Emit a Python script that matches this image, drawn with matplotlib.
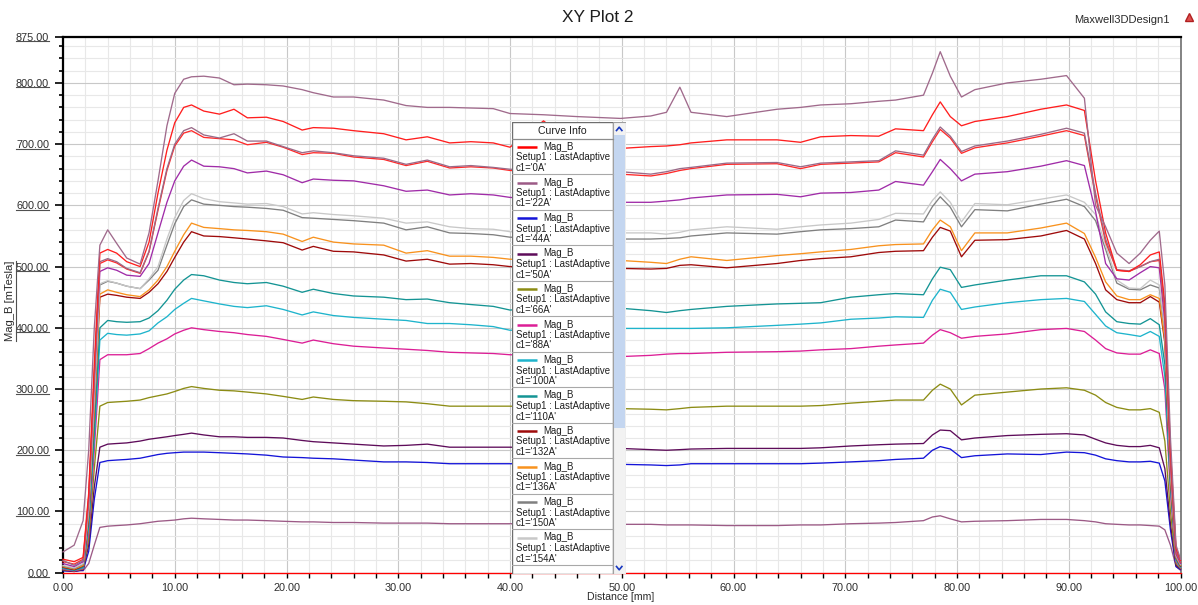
import matplotlib
matplotlib.use("Agg")
import matplotlib.pyplot as plt
import matplotlib.ticker as mticker
from matplotlib.lines import Line2D
from matplotlib.patches import Rectangle
from matplotlib.transforms import IdentityTransform

plt.rcParams["font.family"] = ["Liberation Sans", "DejaVu Sans"]

# ---------------------------------------------------------------- data
DIST = [0.0, 1.0, 1.8, 2.3, 2.8, 3.3,
        4.0, 4.8, 5.7, 6.9, 7.7,
        8.5, 9.3, 10.0, 10.8, 11.5,
        12.6, 14.0, 15.3, 16.5, 18.2,
        19.7, 21.4, 22.4, 24.2, 26.0,
        28.7, 30.7, 32.6, 34.6, 36.5,
        38.5, 40.0, 43.0, 46.0, 49.9,
        52.6, 54.0, 55.2, 56.2, 59.4,
        63.9, 66.0, 67.8, 70.5, 73.0,
        74.5, 77.0, 77.8, 78.5, 79.4, 80.4,
        81.6, 84.5, 87.5, 89.8, 91.4,
        92.4, 93.3, 94.3, 95.4, 96.4,
        97.3, 98.1, 98.6, 99.1, 99.6,
        100.0]

B_0A = [0, 0, 0, 0, 0, 0,
        0, 0, 0, 0, 0,
        0, 0, 0, 0, 0,
        0, 0, 0, 0, 0,
        0, 0, 0, 0, 0,
        0, 0, 0, 0, 0,
        0, 0, 0, 0, 0,
        0, 0, 0, 0, 0,
        0, 0, 0, 0, 0,
        0, 0, 0, 0, 0, 0,
        0, 0, 0, 0, 0,
        0, 0, 0, 0, 0,
        0, 0, 0, 0, 0,
        0]

B_22A = [10, 5, 3, 15, 45, 74,
         76, 77, 78, 80, 82,
         84, 85, 86, 88, 89,
         88, 87, 86, 86, 85,
         84, 83, 83, 82, 82,
         81, 81, 81, 80, 80,
         80, 80, 80, 79, 79,
         79, 78, 78, 78, 77,
         77, 78, 78, 80, 81,
         82, 85, 91, 93, 88, 83,
         84, 85, 87, 87, 85,
         83, 80, 79, 78, 78,
         77, 76, 70, 45, 10,
         4]

B_44A = [3, 2, 4, 35, 120, 180,
         183, 184, 185, 187, 190,
         193, 195, 196, 197, 197,
         197, 196, 195, 194, 192,
         189, 188, 187, 186, 184,
         181, 181, 180, 178, 178,
         178, 178, 177, 177, 177,
         176, 175, 176, 178, 178,
         178, 178, 179, 181, 183,
         185, 187, 200, 206, 202, 188,
         191, 194, 193, 197, 196,
         192, 186, 183, 181, 181,
         182, 179, 150, 70, 10,
         5]

B_50A = [4, 2, 5, 45, 140, 205,
         210, 211, 212, 215, 218,
         220, 222, 224, 226, 228,
         225, 222, 222, 221, 221,
         220, 216, 214, 212, 210,
         207, 208, 210, 205, 205,
         205, 205, 204, 204, 203,
         201, 200, 201, 202, 203,
         203, 203, 204, 207, 209,
         210, 211, 225, 233, 232, 217,
         220, 224, 226, 227, 225,
         218, 212, 208, 206, 206,
         208, 204, 170, 80, 12,
         6]

B_66A = [5, 3, 6, 55, 170, 272,
         278, 279, 280, 282, 286,
         289, 292, 296, 301, 304,
         301, 298, 297, 295, 292,
         288, 283, 287, 283, 281,
         280, 279, 276, 272, 272,
         272, 272, 270, 269, 268,
         267, 266, 268, 270, 272,
         272, 272, 273, 277, 280,
         282, 282, 298, 308, 300, 274,
         290, 295, 300, 302, 298,
         290, 278, 270, 266, 266,
         268, 262, 215, 100, 15,
         7]

B_88A = [6, 3, 7, 65, 200, 348,
         356, 356, 356, 358, 366,
         375, 382, 390, 396, 400,
         397, 394, 392, 389, 386,
         381, 375, 380, 374, 370,
         367, 365, 363, 360, 359,
         358, 356, 355, 354, 353,
         355, 357, 358, 358, 360,
         361, 362, 364, 366, 370,
         372, 375, 388, 397, 392, 383,
         386, 390, 397, 399, 394,
         380, 366, 359, 357, 357,
         364, 358, 300, 130, 18,
         8]

B_100A = [7, 4, 8, 75, 220, 380,
          391, 389, 388, 390, 395,
          408, 418, 430, 440, 448,
          444, 439, 435, 433, 436,
          430, 421, 426, 420, 417,
          414, 412, 407, 407, 405,
          402, 396, 398, 399, 399,
          399, 399, 399, 399, 400,
          404, 406, 408, 414, 416,
          418, 417, 445, 463, 458, 430,
          434, 441, 446, 448, 443,
          422, 403, 392, 389, 386,
          394, 386, 320, 140, 20,
          9]

B_110A = [8, 4, 9, 80, 230, 400,
          412, 410, 409, 410, 416,
          428, 445, 463, 478, 487,
          485, 478, 474, 472, 474,
          468, 458, 463, 456, 452,
          450, 446, 447, 441, 438,
          435, 429, 432, 432, 432,
          428, 425, 428, 430, 435,
          439, 440, 441, 450, 454,
          456, 454, 480, 499, 495, 466,
          470, 478, 485, 485, 475,
          455, 426, 410, 407, 406,
          415, 405, 340, 145, 22,
          10]

B_132A = [9, 5, 11, 92, 265, 450,
          455, 453, 450, 448, 458,
          472, 492, 515, 540, 557,
          550, 549, 547, 545, 542,
          539, 527, 533, 525, 524,
          519, 509, 512, 504, 505,
          503, 500, 499, 498, 497,
          496, 497, 502, 503, 498,
          505, 510, 513, 516, 523,
          525, 526, 548, 564, 558, 516,
          543, 544, 550, 559, 545,
          505, 462, 446, 441, 441,
          451, 442, 375, 155, 24,
          11]

B_136A = [10, 6, 12, 95, 270, 455,
          462, 458, 454, 451, 462,
          478, 500, 525, 552, 571,
          564, 562, 560, 559, 557,
          553, 541, 548, 540, 537,
          535, 522, 526, 517, 517,
          515, 512, 512, 511, 510,
          507, 505, 512, 516, 510,
          518, 521, 524, 528, 534,
          536, 537, 560, 576, 565, 526,
          555, 555, 563, 571, 554,
          515, 475, 452, 446, 446,
          454, 448, 380, 160, 25,
          12]

B_150A = [11, 7, 14, 102, 285, 470,
          476, 473, 468, 464, 478,
          494, 535, 570, 598, 609,
          602, 600, 598, 597, 595,
          592, 580, 579, 577, 575,
          571, 560, 565, 555, 554,
          552, 548, 547, 546, 545,
          545, 546, 547, 550, 555,
          553, 557, 560, 562, 565,
          576, 573, 598, 614, 597, 565,
          593, 591, 602, 610, 598,
          575, 528, 473, 463, 462,
          470, 465, 395, 165, 26,
          13]

B_154A = [12, 8, 15, 105, 290, 472,
          477, 473, 468, 464, 480,
          500, 545, 580, 608, 619,
          611, 606, 604, 602, 603,
          598, 586, 588, 585, 583,
          579, 571, 573, 565, 562,
          561, 557, 556, 556, 555,
          555, 553, 556, 560, 565,
          561, 565, 568, 571, 577,
          587, 586, 608, 622, 605, 573,
          603, 601, 610, 617, 605,
          585, 535, 478, 465, 464,
          478, 470, 400, 170, 28,
          14]

B_176A = [15, 10, 18, 115, 310, 492,
          498, 494, 486, 484, 505,
          555, 605, 640, 664, 674,
          664, 663, 660, 653, 656,
          650, 637, 643, 641, 640,
          632, 623, 625, 617, 619,
          617, 613, 610, 607, 605,
          605, 607, 609, 612, 617,
          618, 614, 620, 621, 625,
          639, 633, 655, 675, 660, 640,
          651, 655, 664, 673, 665,
          590, 505, 480, 478, 490,
          500, 498, 410, 180, 30,
          15]

B_198A = [18, 14, 22, 125, 325, 505,
          511, 506, 496, 489, 524,
          592, 657, 697, 718, 722,
          711, 709, 707, 699, 703,
          695, 683, 686, 685, 679,
          675, 665, 672, 661, 663,
          661, 657, 655, 653, 651,
          648, 652, 657, 660, 667,
          668, 660, 667, 669, 671,
          686, 679, 704, 724, 710, 685,
          694, 702, 713, 722, 714,
          615, 540, 494, 492, 500,
          508, 510, 425, 185, 33,
          17]

B_200A = [20, 12, 20, 120, 320, 508,
          513, 508, 497, 490, 525,
          595, 660, 700, 722, 727,
          715, 710, 717, 705, 705,
          696, 686, 689, 686, 681,
          677, 667, 674, 663, 665,
          662, 659, 657, 655, 655,
          651, 655, 660, 662, 669,
          670, 663, 669, 671, 673,
          689, 682, 708, 728, 713, 688,
          697, 705, 716, 726, 718,
          620, 545, 495, 493, 500,
          508, 512, 430, 190, 35,
          18]

B_220A = [22, 18, 25, 130, 340, 522,
          528, 522, 508, 500, 540,
          620, 690, 735, 760, 764,
          754, 749, 757, 743, 744,
          737, 723, 727, 726, 722,
          717, 707, 712, 702, 704,
          702, 695, 738, 695, 693,
          696, 697, 699, 702, 707,
          707, 703, 712, 714, 713,
          725, 722, 748, 769, 745, 730,
          737, 745, 757, 764, 755,
          640, 555, 494, 492, 503,
          519, 524, 440, 200, 40,
          20]

B_250A = [34, 45, 85, 200, 400, 535,
          560, 538, 514, 504, 555,
          640, 730, 783, 806, 810,
          811, 808, 797, 798, 797,
          795, 789, 784, 777, 777,
          772, 763, 760, 760, 759,
          758, 750, 748, 745, 742,
          746, 752, 793, 752, 745,
          757, 760, 764, 766, 770,
          772, 780, 816, 851, 811, 777,
          789, 800, 806, 812, 775,
          600, 565, 522, 505, 522,
          543, 558, 470, 220, 45,
          22]

CURRENTS = ["0A", "22A", "44A", "50A", "66A", "88A", "100A", "110A",
            "132A", "136A", "150A", "154A", "176A", "198A", "200A",
            "220A", "250A"]
SERIES_B = [B_0A, B_22A, B_44A, B_50A, B_66A, B_88A, B_100A, B_110A,
            B_132A, B_136A, B_150A, B_154A, B_176A, B_198A, B_200A,
            B_220A, B_250A]
COLORS = ["#FF0000", "#9C5A86", "#1414D8", "#5E0C5A", "#8C8C14",
          "#DC1E96", "#1EB4CC", "#149494", "#9E0A0A", "#F8921E",
          "#808080", "#C8C8C8", "#A02CA8", "#FF2A2A", "#9A6A88",
          "#FF1E1E", "#A06A8C"]

Y_MAJOR = [0, 100, 200, 300, 400, 500, 600, 700, 800, 875]

# ---------------------------------------------------------------- figure
W, H = 1198, 605
fig = plt.figure(figsize=(W / 100, H / 100), dpi=100)
fig.patch.set_facecolor("white")

ax = fig.add_axes([63 / W, 1 - 572.7 / H, (1180.5 - 63) / W, (572.7 - 37) / H])
ax.set_xlim(0, 100)
ax.set_ylim(0, 875)

for vals, col in zip(SERIES_B, COLORS):
    ax.plot(DIST, vals, color=col, lw=0.95, clip_on=False, zorder=3)

ax.set_axisbelow(True)
ax.xaxis.set_major_locator(mticker.MultipleLocator(10))
ax.xaxis.set_minor_locator(mticker.MultipleLocator(2))
ax.set_yticks(Y_MAJOR)
ax.yaxis.set_minor_locator(mticker.MultipleLocator(20))
ax.xaxis.set_major_formatter(mticker.FormatStrFormatter("%.2f"))
ax.yaxis.set_major_formatter(mticker.FormatStrFormatter("%.2f"))
ax.grid(which="major", color="#C8C8C8", lw=0.8)
ax.grid(which="minor", color="#E8E8E8", lw=0.8)

ax.tick_params(axis="y", which="major", length=6, width=1.2, color="black",
               labelsize=7.8, labelcolor="#2E2E2E", pad=4)
ax.tick_params(axis="y", which="minor", length=3, width=1.2, color="black")
ax.tick_params(axis="x", which="both", length=3.6, width=1.0, color="black",
               labelsize=7.8, labelcolor="#2E2E2E", pad=4)

for side in ("left", "top"):
    ax.spines[side].set_linewidth(1.6)
    ax.spines[side].set_color("black")
ax.spines["right"].set_linewidth(1.2)
ax.spines["right"].set_color("#6E6E6E")
ax.spines["bottom"].set_linewidth(0.8)
ax.spines["bottom"].set_color("#A0A0A0")

# titles and labels
fig.text(598 / W, 1 - 18 / H, "XY Plot 2", ha="center", va="center",
         fontsize=12.4, color="#1E1E1E")
fig.text(1170 / W, 1 - 20 / H, "Maxwell3DDesign1", ha="right", va="center",
         fontsize=8.0, color="#2A2A2A")
fig.add_artist(Line2D([1189 / W], [1 - 17 / H], marker="^", markersize=6,
                      color="#E05050", markeredgecolor="#B02020",
                      transform=fig.transFigure))
fig.text(621 / W, 1 - 597 / H, "Distance [mm]", ha="center", va="center",
         fontsize=7.6, color="#2A2A2A")
ylab = fig.text(10.5 / W, 1 - 301 / H, "Mag_B [mTesla]", ha="center",
                va="center", rotation=90, fontsize=8.1, color="#2A2A2A")

# ---------------------------------------------------------------- curve info panel
lax = fig.add_axes([512 / W, 1 - 574 / H, (626 - 512) / W, (574 - 122) / H])
lax.set_xlim(512, 626)
lax.set_ylim(574, 122)
lax.axis("off")
lax.add_patch(Rectangle((512, 122), 100.5, 452, facecolor="white",
                        edgecolor="#6E6E6E", lw=1.0))
lax.text(562, 131, "Curve Info", ha="center", va="center", fontsize=7.6,
         color="#1E1E1E")
lax.plot([512, 612.5], [138.5, 138.5], color="#8C8C8C", lw=0.9)
for k in range(12):
    y0 = 147 + 35.5 * k
    lax.plot([517, 537], [y0, y0], color=COLORS[k], lw=1.8,
             solid_capstyle="butt")
    lax.text(543, y0, "Mag_B", va="center", fontsize=6.9, color="#1E1E1E")
    lax.text(516, y0 + 10.5, "Setup1 : LastAdaptive", va="center",
             fontsize=6.9, color="#1E1E1E")
    lax.text(516, y0 + 21, "c1='%s'" % CURRENTS[k], va="center",
             fontsize=6.9, color="#1E1E1E")
    lax.plot([512, 612.5], [y0 + 27, y0 + 27], color="#A8A8A8", lw=0.8)

# scrollbar
lax.add_patch(Rectangle((613, 122), 12.5, 452, facecolor="#F2F2F2",
                        edgecolor="#A0A0A0", lw=0.8))
lax.add_patch(Rectangle((614, 135), 10.5, 293, facecolor="#C4D6F0",
                        edgecolor="none"))
lax.plot([616.5, 619.2, 621.9], [130.5, 127.2, 130.5], color="#1838C0", lw=1.2)
lax.plot([616.5, 619.2, 621.9], [566.5, 569.8, 566.5], color="#1838C0", lw=1.2)

# underline the value labels on the vertical axis
fig.canvas.draw()
renderer = fig.canvas.get_renderer()
for lbl in ax.get_yticklabels():
    if not lbl.get_text():
        continue
    bb = lbl.get_window_extent(renderer)
    yy = bb.y0 + 1.5
    fig.add_artist(Line2D([bb.x0, bb.x1], [yy, yy], color="#505050", lw=0.8,
                          transform=IdentityTransform()))
bb = ylab.get_window_extent(renderer)
fig.add_artist(Line2D([bb.x1 + 0.5, bb.x1 + 0.5], [bb.y0, bb.y1],
                      color="#505050", lw=0.8, transform=IdentityTransform()))

fig.savefig("out.png", dpi=100, facecolor="white")
